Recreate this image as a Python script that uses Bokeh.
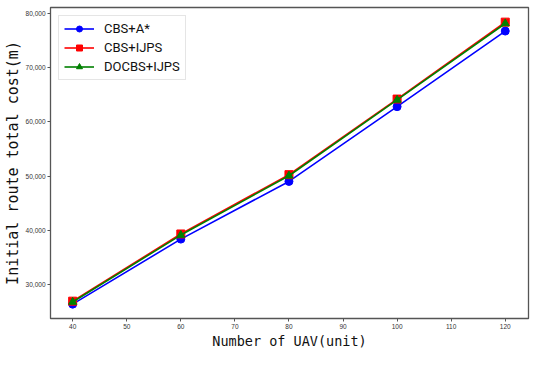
from bokeh.plotting import figure
from bokeh.models import NumeralTickFormatter, FixedTicker, Range1d, Legend
from bokeh.embed import file_html
from bokeh.resources import INLINE

uav = [40, 60, 80, 100, 120]
cbs_astar = [26350, 38350, 49000, 62800, 76750]
cbs_ijps = [26900, 39300, 50250, 64200, 78400]
docbs_ijps = [26750, 39100, 50050, 64050, 78150]

x_ticks = [40, 50, 60, 70, 80, 90, 100, 110, 120]
y_ticks = [30000, 40000, 50000, 60000, 70000, 80000]

p = figure(width=534, height=351, output_backend="svg", toolbar_location=None,
           x_range=Range1d(35.9, 124.3), y_range=Range1d(23700, 81100),
           min_border_left=46, min_border_right=6, min_border_top=7, min_border_bottom=0)

p.xgrid.visible = False
p.ygrid.visible = False
p.outline_line_color = "#555555"
p.outline_line_width = 1.3

series = [
    ("CBS+A*", cbs_astar, "#0000ff", "circle"),
    ("CBS+IJPS", cbs_ijps, "#ff0000", "square"),
    ("DOCBS+IJPS", docbs_ijps, "#008000", "triangle"),
]
items = []
for name, ys, col, mk in series:
    r1 = p.line(uav, ys, line_color=col, line_width=1.6)
    r2 = p.scatter(uav, ys, marker=mk, size=8, fill_color=col, line_color=col)
    items.append((name, [r1, r2]))

legend = Legend(items=items, location="top_left")
legend.label_text_font = "Roboto"
legend.label_text_font_size = "13px"
legend.label_text_color = "#111111"
legend.glyph_width = 30
legend.glyph_height = 15
legend.label_height = 15
legend.label_standoff = 10
legend.spacing = 4
legend.padding = 5
legend.margin = 8
legend.border_line_color = "#cccccc"
legend.border_line_width = 1
p.add_layout(legend)

for ax in (p.xaxis, p.yaxis):
    ax.axis_line_color = "#555555"
    ax.major_tick_line_color = "#555555"
    ax.minor_tick_line_color = None
    ax.major_tick_out = 3
    ax.major_tick_in = 0
    ax.major_label_text_font_size = "6.5px"
    ax.major_label_text_color = "#333333"
    ax.major_label_standoff = 2
    ax.axis_label_text_font = "DejaVu Sans Mono"
    ax.axis_label_text_font_style = "normal"
    ax.axis_label_text_color = "#111111"
    ax.axis_label_standoff = 1

p.xaxis.axis_label_text_font_size = "13.5px"
p.yaxis.axis_label_text_font_size = "15px"
p.xaxis.ticker = FixedTicker(ticks=x_ticks)
p.yaxis.ticker = FixedTicker(ticks=y_ticks)
p.yaxis.formatter = NumeralTickFormatter(format="0,0")
p.xaxis.axis_label = "Number of UAV(unit)"
p.yaxis.axis_label = "Initial route total cost(m)"

open("out.html", "w").write(file_html(p, INLINE))
